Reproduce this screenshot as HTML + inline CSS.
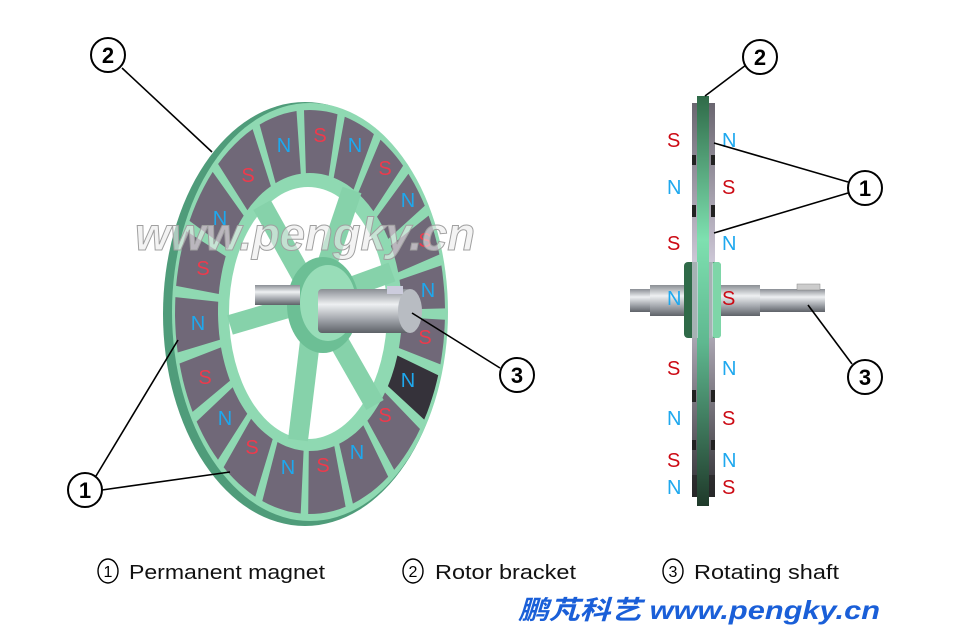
<!DOCTYPE html>
<html><head><meta charset="utf-8"><style>
html,body{margin:0;padding:0;background:#fff;}
svg{display:block;}
.cap{font-family:"Liberation Sans",sans-serif;font-size:20px;fill:#111;}
.m{font-family:"Liberation Sans",sans-serif;font-size:20px;}
.N{fill:#1ea8ee;}
.S{fill:#ee3a4c;}
.S2{fill:#cc0a14;}
</style></head><body>
<svg id="s" width="960" height="640" viewBox="0 0 960 640" xmlns="http://www.w3.org/2000/svg">
<defs>
<linearGradient id="shaft" x1="0" y1="0" x2="0" y2="1">
<stop offset="0" stop-color="#8a8e94"/><stop offset="0.35" stop-color="#eef0f2"/><stop offset="0.7" stop-color="#a0a4aa"/><stop offset="1" stop-color="#5e6268"/></linearGradient>
<linearGradient id="gdisc" x1="0" y1="0" x2="0" y2="1">
<stop offset="0" stop-color="#2f6a48"/><stop offset="0.35" stop-color="#7ee0b0"/><stop offset="0.6" stop-color="#5fb890"/><stop offset="1" stop-color="#1f3a2a"/></linearGradient>
<linearGradient id="gmag" x1="0" y1="0" x2="0" y2="1">
<stop offset="0" stop-color="#6a6670"/><stop offset="0.45" stop-color="#d8d2e2"/><stop offset="0.7" stop-color="#8a8690"/><stop offset="1" stop-color="#303034"/></linearGradient>
</defs>
<!-- left disc -->
<ellipse cx="305" cy="314" rx="142" ry="212" fill="#4f9c7a"/>
<ellipse cx="310" cy="312" rx="138" ry="209" fill="#8fd9b2"/>
<g id="mags"></g>
<ellipse cx="312" cy="312" rx="88" ry="134" fill="#8fd9b2"/>
<ellipse cx="308" cy="313" rx="79" ry="126" fill="#fff"/>
<!-- spokes -->
<g stroke="#86d2aa" stroke-width="20" stroke-linecap="butt">
<line x1="315" y1="300" x2="352" y2="190"/>
<line x1="315" y1="300" x2="392" y2="272"/>
<line x1="315" y1="300" x2="375" y2="405"/>
<line x1="315" y1="300" x2="298" y2="440"/>
<line x1="315" y1="300" x2="230" y2="325"/>
<line x1="315" y1="300" x2="262" y2="205"/>
</g>
<ellipse cx="323" cy="305" rx="36" ry="48" fill="#6cbf95"/>
<ellipse cx="328" cy="303" rx="28" ry="38" fill="#98ddb8"/>
<rect x="255" y="285" width="45" height="20" fill="url(#shaft)"/>
<rect x="318" y="289" width="92" height="44" rx="4" fill="url(#shaft)"/>
<ellipse cx="410" cy="311" rx="12" ry="22" fill="#b8bcc2"/>
<rect x="387" y="286" width="16" height="8" fill="#ccd"/>
<!-- watermark -->
<text x="135" y="250" textLength="340" lengthAdjust="spacingAndGlyphs" font-family="Liberation Sans,sans-serif" font-style="italic" font-weight="bold" font-size="46" fill="rgba(235,235,235,0.6)" stroke="#a0a0a0" stroke-width="1">www.pengky.cn</text>
<!-- right disc -->
<rect x="692" y="103" width="23" height="394" fill="url(#gmag)"/>
<g fill="#222"><rect x="692" y="155" width="4" height="10"/><rect x="711" y="155" width="4" height="10"/><rect x="692" y="205" width="4" height="12"/><rect x="711" y="205" width="4" height="12"/><rect x="692" y="390" width="4" height="12"/><rect x="711" y="390" width="4" height="12"/><rect x="692" y="440" width="4" height="10"/><rect x="711" y="440" width="4" height="10"/><rect x="692" y="475" width="23" height="22" opacity="0.6"/></g>
<rect x="630" y="289" width="195" height="23" fill="url(#shaft)"/>
<rect x="650" y="285" width="110" height="31" fill="url(#shaft)"/>
<rect x="797" y="284" width="23" height="6" fill="#ccc" stroke="#888" stroke-width="0.5"/>
<rect x="684" y="262" width="37" height="76" rx="4" fill="#2f6a48"/>
<rect x="712" y="262" width="9" height="76" rx="3" fill="#7ed6a8"/>
<rect x="697" y="96" width="12" height="410" fill="url(#gdisc)"/>
<rect x="692" y="262" width="6" height="76" fill="#d8d2e2" opacity="0.7"/>
<rect x="709" y="262" width="4" height="76" fill="#d8d2e2" opacity="0.7"/>
<g class="m">
<text x="667" y="147" class="S2">S</text><text x="722" y="147" class="N">N</text>
<text x="667" y="194" class="N">N</text><text x="722" y="194" class="S2">S</text>
<text x="667" y="250" class="S2">S</text><text x="722" y="250" class="N">N</text>
<text x="667" y="305" class="N">N</text><text x="722" y="305" class="S2">S</text>
<text x="667" y="375" class="S2">S</text><text x="722" y="375" class="N">N</text>
<text x="667" y="425" class="N">N</text><text x="722" y="425" class="S2">S</text>
<text x="667" y="467" class="S2">S</text><text x="722" y="467" class="N">N</text>
<text x="667" y="494" class="N">N</text><text x="722" y="494" class="S2">S</text>
</g>
<!-- leaders -->
<g stroke="#000" stroke-width="1.6" fill="none">
<line x1="122" y1="68" x2="212" y2="152"/>
<line x1="96" y1="476" x2="178" y2="340"/>
<line x1="102" y1="490" x2="230" y2="472"/>
<line x1="500" y1="368" x2="412" y2="313"/>
<line x1="746" y1="65" x2="705" y2="96"/>
<line x1="848" y1="182" x2="714" y2="143"/>
<line x1="848" y1="193" x2="714" y2="233"/>
<line x1="852" y1="364" x2="808" y2="305"/>
</g>
<g fill="#fff" stroke="#000" stroke-width="2">
<circle cx="108" cy="55" r="17"/><circle cx="85" cy="490" r="17"/><circle cx="517" cy="375" r="17"/>
<circle cx="760" cy="57" r="17"/><circle cx="865" cy="188" r="17"/><circle cx="865" cy="377" r="17"/>
</g>
<g font-family="Liberation Sans,sans-serif" font-size="22" font-weight="bold" text-anchor="middle">
<text x="108" y="63">2</text><text x="85" y="498">1</text><text x="517" y="383">3</text>
<text x="760" y="65">2</text><text x="865" y="196">1</text><text x="865" y="385">3</text>
</g>
<!-- captions -->
<g fill="#fff" stroke="#000" stroke-width="1.4"><ellipse cx="108" cy="571" rx="10" ry="12"/><ellipse cx="413" cy="571" rx="10" ry="12"/><ellipse cx="673" cy="571" rx="10" ry="12"/></g>
<g font-family="Liberation Sans,sans-serif" font-size="16" text-anchor="middle"><text x="108" y="577">1</text><text x="413" y="577">2</text><text x="673" y="577">3</text></g>
<text class="cap" x="129" y="579" textLength="196" lengthAdjust="spacingAndGlyphs">Permanent magnet</text>
<text class="cap" x="435" y="579" textLength="141" lengthAdjust="spacingAndGlyphs">Rotor bracket</text>
<text class="cap" x="694" y="579" textLength="145" lengthAdjust="spacingAndGlyphs">Rotating shaft</text>
<text x="518" y="619" textLength="362" lengthAdjust="spacingAndGlyphs" font-family="Liberation Sans,'Noto Sans CJK SC',sans-serif" font-size="26" font-weight="bold" font-style="italic" fill="#1a5fd8">鹏芃科艺 www.pengky.cn</text>
</svg>
<script>
(function(){
var g=document.getElementById('mags'),cx=310,cy=312,ro=[135,202],ri=[92,139],s="";
function p(a,r){return [cx+r[0]*Math.cos(a),cy+r[1]*Math.sin(a)];}
var L=[["N",284,145],["S",320,135],["N",355,145],["S",385,168],["N",408,200],["S",425,240],["N",428,290],["S",425,337],["N",408,380],["S",385,415],["N",357,452],["S",323,465],["N",288,467],["S",252,447],["N",225,418],["S",205,377],["N",198,323],["S",203,268],["N",220,218],["S",248,175]];
var A=L.map(function(l){return Math.atan2((l[2]-cy)/170,(l[1]-cx)/114);});
var n=L.length,gap=1.6*Math.PI/180;
function d(x,y){var v=y-x;while(v<-Math.PI)v+=2*Math.PI;while(v>Math.PI)v-=2*Math.PI;return v;}
for(var k=0;k<n;k++){
 var a=A[k],pr=A[(k+n-1)%n],nx=A[(k+1)%n];
 var a0=a+d(a,pr)/2+gap,a1=a+d(a,nx)/2-gap,pts=[];
 for(var i=0;i<=6;i++)pts.push(p(a0+(a1-a0)*i/6,ro));
 for(var i=6;i>=0;i--)pts.push(p(a0+(a1-a0)*i/6,ri));
 var col=(k==8)?"#35323a":"#706878";
 s+='<polygon fill="'+col+'" points="'+pts.map(function(q){return q[0].toFixed(1)+","+q[1].toFixed(1)}).join(" ")+'"/>';}
L.forEach(function(l){s+='<text class="m '+l[0]+'" text-anchor="middle" x="'+l[1]+'" y="'+(l[2]+7)+'">'+l[0]+'</text>';});
g.innerHTML=s;})();
</script>
</body></html>
